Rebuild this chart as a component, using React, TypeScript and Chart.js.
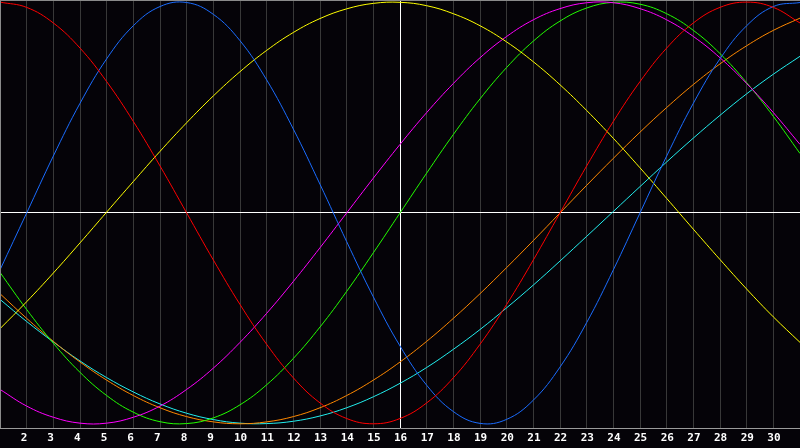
import { useEffect, useRef } from "react";
import { Chart, registerables } from "chart.js";

Chart.register(...registerables);

// days of the month shown on the x axis (first and last have no label)
const days = [
  "1", "2", "3", "4", "5", "6", "7", "8", "9", "10", "11", "12", "13", "14", "15", "16",
  "17", "18", "19", "20", "21", "22", "23", "24", "25", "26", "27", "28", "29", "30", "31",
];
const today = "16";

const emotional = [
  1, 0.975, 0.901, 0.782, 0.623, 0.434, 0.223, 0, -0.223, -0.434, -0.623, -0.782, -0.901, -0.975, -1, -0.975,
  -0.901, -0.782, -0.623, -0.434, -0.223, 0, 0.223, 0.434, 0.623, 0.782, 0.901, 0.975, 1, 0.975, 0.901,
];
const physical = [
  -0.27, 0, 0.27, 0.52, 0.731, 0.888, 0.979, 0.998, 0.942, 0.817, 0.631, 0.398, 0.136, -0.136, -0.398, -0.631,
  -0.817, -0.942, -0.998, -0.979, -0.888, -0.731, -0.52, -0.27, 0, 0.27, 0.52, 0.731, 0.888, 0.979, 0.998,
];
const aesthetic = [
  -0.549, -0.421, -0.285, -0.142, 0.004, 0.149, 0.292, 0.428, 0.555, 0.67, 0.771, 0.856, 0.922, 0.968, 0.994, 0.999,
  0.983, 0.945, 0.888, 0.811, 0.717, 0.608, 0.486, 0.354, 0.214, 0.069, -0.077, -0.221, -0.361, -0.493, -0.614,
];
const intuitive = [
  -0.837, -0.916, -0.969, -0.997, -0.997, -0.969, -0.916, -0.837, -0.736, -0.614, -0.476, -0.325, -0.165, 0, 0.165, 0.325,
  0.476, 0.614, 0.736, 0.837, 0.916, 0.969, 0.997, 0.997, 0.969, 0.916, 0.837, 0.736, 0.614, 0.476, 0.325,
];
const intellectual = [
  -0.282, -0.458, -0.618, -0.756, -0.866, -0.945, -0.99, -0.999, -0.972, -0.91, -0.815, -0.69, -0.541, -0.372, -0.189, 0,
  0.189, 0.372, 0.541, 0.69, 0.815, 0.91, 0.972, 0.999, 0.99, 0.945, 0.866, 0.756, 0.618, 0.458, 0.282,
];
const awareness = [
  -0.383, -0.5, -0.609, -0.707, -0.793, -0.866, -0.924, -0.966, -0.991, -1, -0.991, -0.966, -0.924, -0.866, -0.793, -0.707,
  -0.609, -0.5, -0.383, -0.259, -0.131, 0, 0.131, 0.259, 0.383, 0.5, 0.609, 0.707, 0.793, 0.866, 0.924,
];
const spiritual = [
  -0.41, -0.515, -0.612, -0.702, -0.781, -0.849, -0.906, -0.95, -0.98, -0.997, -0.999, -0.988, -0.963, -0.924, -0.872, -0.808,
  -0.733, -0.647, -0.553, -0.45, -0.342, -0.228, -0.111, 0.007, 0.125, 0.242, 0.355, 0.463, 0.565, 0.658, 0.743,
];

const BG = "#050308";

const framePlugin = {
  id: "frame",
  beforeDraw(chart: any) {
    const { ctx, width, height } = chart;
    ctx.save();
    ctx.fillStyle = BG;
    ctx.fillRect(0, 0, width, height);
    ctx.restore();
  },
  afterDraw(chart: any) {
    const { ctx, chartArea } = chart;
    ctx.save();
    ctx.strokeStyle = "#8a8a8a";
    ctx.lineWidth = 1;
    ctx.beginPath();
    ctx.moveTo(chartArea.left, chartArea.top + 0.5);
    ctx.lineTo(chartArea.right, chartArea.top + 0.5);
    ctx.moveTo(chartArea.left + 0.5, chartArea.top);
    ctx.lineTo(chartArea.left + 0.5, chartArea.bottom);
    ctx.stroke();
    ctx.restore();
  },
};

const line = (label: string, data: number[], color: string) => ({
  label,
  data,
  borderColor: color,
  borderWidth: 1,
  pointRadius: 0,
  pointHoverRadius: 0,
  tension: 0.4,
  fill: false,
});

const App = () => {
  const chartRef = useRef<HTMLCanvasElement | null>(null);
  const chartInstance = useRef<Chart | null>(null);

  useEffect(() => {
    document.body.style.margin = "0";
    document.body.style.background = BG;
    if (!chartRef.current) return;

    if (chartInstance.current) {
      chartInstance.current.destroy();
    }

    const ctx = chartRef.current.getContext("2d");
    if (ctx) {
      chartInstance.current = new Chart(ctx, {
        type: "line",
        data: {
          labels: days,
          datasets: [
            line("Emotional", emotional, "#ff0000"),
            line("Physical", physical, "#1a6cff"),
            line("Aesthetic", aesthetic, "#ffff00"),
            line("Intuitive", intuitive, "#ff00ff"),
            line("Intellectual", intellectual, "#22ff00"),
            line("Awareness", awareness, "#ff8800"),
            line("Spiritual", spiritual, "#22eeee"),
          ],
        },
        options: {
          animation: false,
          responsive: true,
          maintainAspectRatio: false,
          layout: { padding: 0, autoPadding: false },
          plugins: {
            legend: { display: false },
            tooltip: { enabled: false },
          },
          scales: {
            x: {
              type: "category",
              offset: false,
              afterFit: (s: any) => {
                s.height = 20;
                s.paddingLeft = 0;
                s.paddingRight = 0;
              },
              grid: {
                offset: false,
                drawTicks: false,
                color: (c: any) => (days[c.index] === today ? "#ffffff" : "#383838"),
              },
              border: { color: "#9a9a9a" },
              ticks: {
                autoSkip: false,
                maxRotation: 0,
                align: "start",
                labelOffset: -6,
                padding: 4,
                color: "#ffffff",
                font: { family: "DejaVu Sans Mono", size: 11, weight: "bold" },
                callback: (_v: any, i: number) => (i === 0 || i === days.length - 1 ? "" : days[i]),
              },
            },
            y: {
              min: -1.02,
              max: 1.01,
              afterFit: (s: any) => {
                s.width = 0;
              },
              afterBuildTicks: (s: any) => {
                s.ticks = [{ value: 0 }];
              },
              ticks: { display: false },
              grid: {
                drawTicks: false,
                color: "#ffffff",
              },
              border: { display: false },
            },
          },
        },
        plugins: [framePlugin],
      });
    }

    return () => {
      if (chartInstance.current) {
        chartInstance.current.destroy();
        chartInstance.current = null;
      }
    };
  }, []);

  return (
    <div style={{ width: 800, height: 448, position: "relative", background: BG }}>
      <canvas ref={chartRef} />
    </div>
  );
};

export default App;
